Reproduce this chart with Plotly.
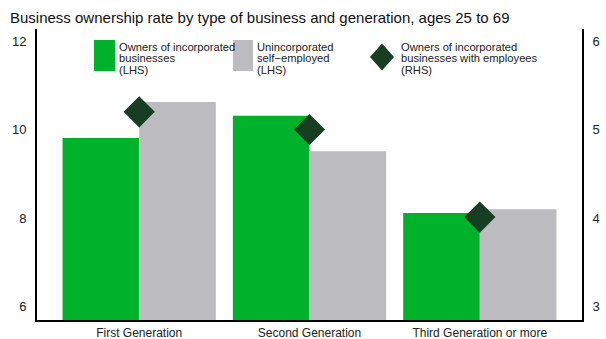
import plotly.graph_objects as go

# Data
generations = ["First Generation", "Second Generation", "Third Generation or more"]
incorporated = [9.81, 10.31, 8.11]          # LHS
unincorporated = [10.62, 9.51, 8.20]        # LHS
incorporated_employees = [5.2, 5.0, 4.01]   # RHS
left_ticks = [6, 8, 10, 12]
right_ticks = [3, 4, 5, 6]

GREEN = "#00b22b"
GRAY = "#bcbcc0"
DARK = "#173d22"
FONT = "Liberation Sans, Arial, sans-serif"

W, H = 606, 339
ML, MR, MT, MB = 37, 24, 29, 19
PW, PH = W - ML - MR, H - MT - MB


def px(x):
    return (x - ML) / PW


def py(y):
    return 1 - (y - MT) / PH


fig = go.Figure()
fig.add_trace(go.Bar(x=generations, y=incorporated, marker_color=GREEN,
                     marker_line_width=0, name="Owners of incorporated businesses (LHS)"))
fig.add_trace(go.Bar(x=generations, y=unincorporated, marker_color=GRAY,
                     marker_line_width=0, name="Unincorporated self-employed (LHS)"))
fig.add_trace(go.Scatter(x=generations, y=incorporated_employees, yaxis="y2", mode="markers",
                         marker=dict(symbol="diamond", size=24, color=DARK, line_width=0),
                         name="Owners of incorporated businesses with employees (RHS)"))

# Legend drawn by hand: swatches + three-line labels
shapes = [
    dict(type="rect", xref="paper", yref="paper", x0=px(94), x1=px(115), y0=py(71), y1=py(40),
         fillcolor=GREEN, line_width=0),
    dict(type="rect", xref="paper", yref="paper", x0=px(233), x1=px(253), y0=py(71), y1=py(40),
         fillcolor=GRAY, line_width=0),
    dict(type="path", xref="paper", yref="paper",
         path=f"M {px(382)},{py(43.5)} L {px(394)},{py(57)} L {px(382)},{py(70.5)} L {px(370)},{py(57)} Z",
         fillcolor=DARK, line_width=0),
]
legend_labels = [
    (118, ["Owners of incorporated", "businesses", "(LHS)"]),
    (256, ["Unincorporated", "self\u2212employed", "(LHS)"]),
    (400, ["Owners of incorporated", "businesses with employees", "(RHS)"]),
]
line_centres = [47, 58.5, 70]
annotations = []
for x, lines in legend_labels:
    for yc, line in zip(line_centres, lines):
        annotations.append(dict(xref="paper", yref="paper", x=px(x), y=py(yc), text=line,
                                showarrow=False, xanchor="left", yanchor="middle",
                                xshift=-1, font=dict(family=FONT, size=11.2, color="#222")))

fig.update_layout(
    width=W, height=H,
    margin=dict(l=ML, r=MR, t=MT, b=MB, autoexpand=False),
    paper_bgcolor="white", plot_bgcolor="white",
    showlegend=False,
    barmode="group", bargap=0.1, bargroupgap=0,
    title=dict(text="Business ownership rate by type of business and generation, ages 25 to 69",
               x=10 / W, xanchor="left", y=1 - 18 / H, yanchor="middle",
               font=dict(family=FONT, size=15, color="#111"), automargin=False),
    font=dict(family=FONT, size=13, color="#222"),
    xaxis=dict(range=[-0.6, 2.6], showgrid=False, showline=True, linecolor="black",
               linewidth=2, ticks="", tickfont=dict(size=12), automargin=False,
               ticklabelstandoff=1),
    yaxis=dict(range=[5.695, 12.27], tickvals=left_ticks, showgrid=False, zeroline=False,
               showline=True, linecolor="black", linewidth=2, ticks="outside",
               ticklen=6, tickcolor="white", automargin=False),
    yaxis2=dict(range=[2.847, 6.136], tickvals=right_ticks, overlaying="y", side="right",
                showgrid=False, zeroline=False, showline=True, linecolor="black",
                linewidth=2, ticks="outside", ticklen=6, tickcolor="white", automargin=False),
    shapes=shapes,
    annotations=annotations,
)

fig.write_html("out.html")
